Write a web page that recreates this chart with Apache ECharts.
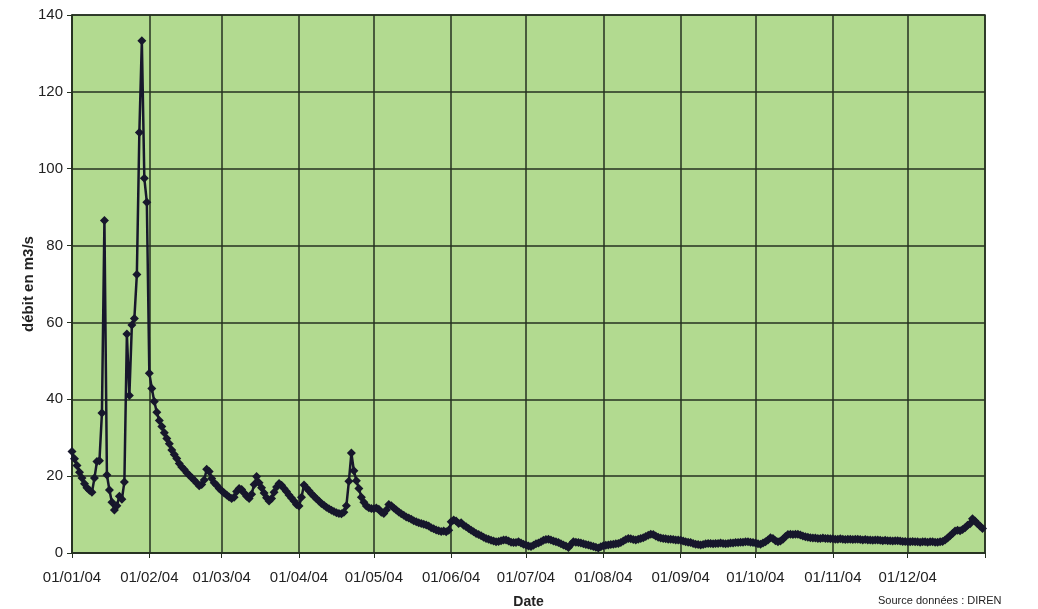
<!DOCTYPE html>
<html>
<head>
<meta charset="utf-8">
<script src="https://cdn.jsdelivr.net/npm/echarts@6/dist/echarts.min.js"></script>
<style>
html,body{margin:0;padding:0;background:#ffffff;}
#chart{width:1038px;height:609px;}
</style>
</head>
<body>
<div id="chart"></div>
<script>
// Daily discharge (m3/s), 2004, one array per month
const janValues = [26.4, 24.5, 22.8, 21.0, 19.5, 18.0, 17.0, 16.3, 15.8, 19.5, 23.8, 24.0, 36.4, 86.5, 20.3, 16.4, 13.2, 11.2, 12.3, 14.8, 14.0, 18.5, 57.0, 41.0, 59.3, 61.0, 72.5, 109.4, 133.3, 97.5, 91.3];
const febValues = [46.8, 42.8, 39.4, 36.6, 34.5, 32.9, 31.3, 29.8, 28.4, 26.8, 25.6, 24.6, 23.3, 22.4, 21.7, 20.9, 20.2, 19.6, 18.9, 18.2, 17.5, 17.8, 19.0, 21.8, 21.2, 19.4, 18.3, 17.6, 16.8];
const marValues = [16.2, 15.6, 15.1, 14.6, 14.2, 14.5, 16.0, 16.8, 16.5, 15.6, 14.8, 14.2, 15.3, 17.8, 19.9, 18.3, 17.0, 15.6, 14.4, 13.5, 14.2, 15.8, 17.2, 18.1, 17.6, 16.8, 16.0, 15.1, 14.3, 13.5, 12.6];
const aprValues = [12.2, 14.5, 17.7, 16.9, 16.2, 15.4, 14.8, 14.1, 13.5, 12.9, 12.4, 11.9, 11.5, 11.1, 10.8, 10.5, 10.3, 10.2, 10.6, 12.3, 18.7, 26.0, 21.4, 18.8, 16.8, 14.5, 13.2, 12.2, 11.8, 11.6];
const mayValues = [11.5, 11.7, 11.4, 10.6, 10.3, 11.2, 12.6, 12.3, 11.7, 11.2, 10.7, 10.2, 9.8, 9.4, 9.1, 8.8, 8.4, 8.1, 7.9, 7.7, 7.5, 7.3, 7.0, 6.6, 6.3, 6.0, 5.8, 5.6, 5.7, 5.5, 5.9];
const junValues = [8.1, 8.6, 8.3, 7.7, 7.9, 7.2, 6.8, 6.4, 5.9, 5.5, 5.1, 4.8, 4.5, 4.1, 3.8, 3.6, 3.3, 3.1, 2.9, 3.0, 3.2, 3.4, 3.4, 3.1, 2.8, 2.7, 2.7, 2.9, 2.6, 2.3];
const julValues = [2.1, 1.8, 1.7, 2.0, 2.4, 2.6, 2.9, 3.3, 3.5, 3.6, 3.4, 3.1, 2.9, 2.7, 2.4, 2.1, 1.8, 1.4, 2.2, 2.9, 2.8, 2.7, 2.6, 2.4, 2.2, 2.1, 1.9, 1.7, 1.5, 1.3, 1.6];
const augValues = [1.9, 2.0, 2.1, 2.2, 2.3, 2.4, 2.5, 2.7, 3.1, 3.5, 3.8, 3.7, 3.5, 3.4, 3.6, 3.8, 4.0, 4.3, 4.6, 4.9, 4.8, 4.4, 4.1, 3.9, 3.8, 3.7, 3.6, 3.6, 3.5, 3.4, 3.4];
const sepValues = [3.3, 3.1, 2.9, 2.8, 2.7, 2.5, 2.3, 2.2, 2.1, 2.2, 2.4, 2.5, 2.5, 2.4, 2.5, 2.5, 2.6, 2.5, 2.4, 2.5, 2.6, 2.6, 2.7, 2.7, 2.8, 2.8, 2.9, 2.9, 2.8, 2.7];
const octValues = [2.6, 2.4, 2.3, 2.6, 2.9, 3.4, 4.0, 3.8, 3.2, 2.9, 3.1, 3.6, 4.3, 4.8, 4.9, 4.8, 4.9, 4.9, 4.7, 4.4, 4.2, 4.1, 4.0, 3.9, 3.9, 3.8, 3.8, 3.9, 3.8, 3.8, 3.7];
const novValues = [3.7, 3.6, 3.6, 3.7, 3.6, 3.5, 3.6, 3.6, 3.5, 3.6, 3.6, 3.5, 3.4, 3.5, 3.4, 3.4, 3.3, 3.4, 3.4, 3.3, 3.2, 3.3, 3.2, 3.2, 3.1, 3.2, 3.2, 3.1, 3.0, 3.0];
const decValues = [2.9, 2.9, 3.0, 2.9, 2.9, 2.8, 2.9, 2.9, 2.8, 2.9, 2.9, 2.8, 2.8, 2.9, 3.0, 3.4, 3.9, 4.5, 5.1, 5.7, 5.9, 5.8, 6.1, 6.6, 7.2, 7.6, 8.9, 8.3, 7.6, 7.0, 6.4];

// Tick labels shown on the date axis (first day of each month)
const tickLabels = ['01/01/04', '01/02/04', '01/03/04', '01/04/04', '01/05/04', '01/06/04', '01/07/04', '01/08/04', '01/09/04', '01/10/04', '01/11/04', '01/12/04'];
const yTicks = [0, 20, 40, 60, 80, 100, 120, 140];

// Categories: every day from 01/01/04 to 01/01/05
function pad(n){ return (n < 10 ? '0' : '') + n; }
const categories = [];
for (let i = 0; i <= 366; i++) {
  const d = new Date(2004, 0, 1 + i);
  categories.push(pad(d.getDate()) + '/' + pad(d.getMonth() + 1) + '/' + pad(d.getFullYear() % 100));
}
const values = [].concat(janValues, febValues, marValues, aprValues, mayValues, junValues,
  julValues, augValues, sepValues, octValues, novValues, decValues);
values.push(null); // 01/01/05 closes the axis

const monthStarts = tickLabels.concat(['01/01/05']);
const isMonthStart = (idx, val) => monthStarts.indexOf(categories[idx]) >= 0;
const isLabel = (idx, val) => tickLabels.indexOf(categories[idx]) >= 0;

const FONT = '"Liberation Sans", Arial, Helvetica, sans-serif';
const GRID_COLOR = '#243020';
const LINE_COLOR = '#17172c';

const chart = echarts.init(document.getElementById('chart'), null, {renderer: 'canvas'});
chart.setOption({
  animation: false,
  backgroundColor: '#ffffff',
  grid: {
    left: 72, right: 53, top: 15, bottom: 56,
    outerBoundsMode: 'none',
    containLabel: false,
    show: true,
    backgroundColor: '#b2da90',
    borderColor: GRID_COLOR,
    borderWidth: 1.5
  },
  xAxis: {
    type: 'category',
    data: categories,
    boundaryGap: false,
    name: 'Date',
    nameLocation: 'middle',
    nameGap: 42,
    nameMoveOverlap: false,
    nameTextStyle: {fontFamily: FONT, fontSize: 14, fontWeight: 'bold', color: '#222'},
    axisLine: {show: true, lineStyle: {color: GRID_COLOR, width: 1.5}},
    axisTick: {show: true, interval: isMonthStart, length: 5, lineStyle: {color: GRID_COLOR, width: 1}},
    axisLabel: {interval: isLabel, fontFamily: FONT, fontSize: 15, color: '#222', margin: 17},
    splitLine: {show: true, interval: isMonthStart, lineStyle: {color: GRID_COLOR, width: 1.5}}
  },
  yAxis: {
    type: 'value',
    min: yTicks[0],
    max: yTicks[yTicks.length - 1],
    interval: 20,
    name: 'débit en m3/s',
    nameLocation: 'middle',
    nameRotate: 90,
    nameGap: 36,
    nameMoveOverlap: false,
    nameTextStyle: {fontFamily: FONT, fontSize: 15, fontWeight: 'bold', color: '#222'},
    axisLine: {show: true, lineStyle: {color: GRID_COLOR, width: 1.5}},
    axisTick: {show: true, length: 5, lineStyle: {color: GRID_COLOR}},
    axisLabel: {fontFamily: FONT, fontSize: 15, color: '#222', margin: 9},
    splitLine: {show: true, lineStyle: {color: GRID_COLOR, width: 1.5}}
  },
  series: [{
    type: 'line',
    data: values,
    showAllSymbol: true,
    symbol: 'diamond',
    symbolSize: 9,
    connectNulls: false,
    lineStyle: {color: LINE_COLOR, width: 2.5},
    itemStyle: {color: LINE_COLOR}
  }],
  graphic: [{
    type: 'text',
    left: 878,
    top: 595,
    style: {text: 'Source données : DIREN', font: '11px ' + FONT, fill: '#222'}
  }]
});
</script>
</body>
</html>
